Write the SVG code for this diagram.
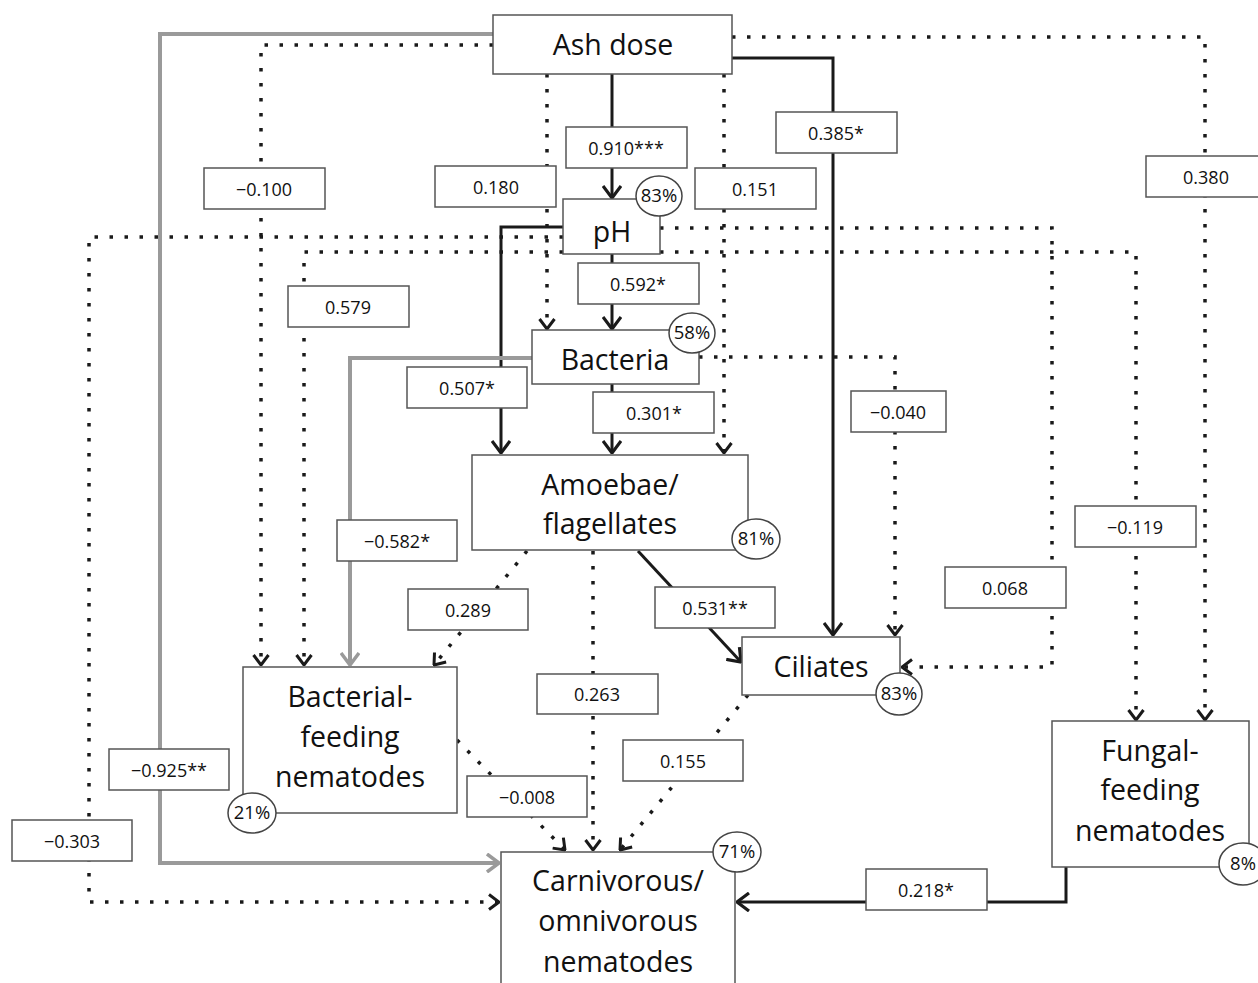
<svg xmlns="http://www.w3.org/2000/svg" width="1258" height="983" viewBox="0 0 1258 983">
<style>
.box{fill:#fff;stroke:#555;stroke-width:1.5}
.nt{font-family:"Open Sans","Liberation Sans",sans-serif;font-size:28.5px;fill:#111;text-anchor:middle}
.lb{fill:#fff;stroke:#555;stroke-width:1.5}
.lt{font-family:"Open Sans","Liberation Sans",sans-serif;font-size:18px;fill:#111;text-anchor:middle}
.pc{fill:#fff;stroke:#444;stroke-width:1.5}
.pt{font-family:"Open Sans","Liberation Sans",sans-serif;font-size:18.5px;fill:#111;text-anchor:middle}
.solid{fill:none;stroke:#1a1a1a;stroke-width:3;marker-end:url(#ab)}
.gray{fill:none;stroke:#9a9a9a;stroke-width:4;marker-end:url(#ag)}
.dot{fill:none;stroke:#1a1a1a;stroke-width:3.5;stroke-dasharray:3.5 11.5;marker-end:url(#ad)}
</style>
<defs>
<marker id="ab" viewBox="0 0 14 20" refX="13" refY="10" markerWidth="14" markerHeight="20" markerUnits="userSpaceOnUse" orient="auto">
<path d="M1,1 L13,10 L1,19" fill="none" stroke="#1a1a1a" stroke-width="3.2"/>
</marker>
<marker id="ag" viewBox="0 0 14 20" refX="13" refY="10" markerWidth="14" markerHeight="20" markerUnits="userSpaceOnUse" orient="auto">
<path d="M1,1 L13,10 L1,19" fill="none" stroke="#9a9a9a" stroke-width="3.5"/>
</marker>
<marker id="ad" viewBox="0 0 12 18" refX="11" refY="9" markerWidth="12" markerHeight="18" markerUnits="userSpaceOnUse" orient="auto">
<path d="M1,1.5 L11,9 L1,16.5" fill="none" stroke="#1a1a1a" stroke-width="3"/>
</marker>
</defs>
<rect width="1258" height="983" fill="#fff"/>
<g id="connectors">
<path class="gray" d="M493,34 H160 V863 H499"/>
<path class="dot" d="M493,45 H261 V665"/>
<path class="dot" d="M547,74 V329"/>
<path class="dot" d="M724,74 V453"/>
<path class="dot" d="M732,37 H1205 V720"/>
<path class="solid" d="M612,74 V198"/>
<path class="solid" d="M732,58 H833 V635"/>
<path class="solid" d="M563,227 H501 V453"/>
<path class="solid" d="M612,254 V329"/>
<path class="dot" d="M563,237 H89 V902 H499"/>
<path class="dot" d="M563,252 H304 V665"/>
<path class="dot" d="M660,228 H1052 V667 H902"/>
<path class="dot" d="M660,252 H1136 V720"/>
<path class="gray" d="M532,358 H350 V665"/>
<path class="solid" d="M612,384 V453"/>
<path class="dot" d="M699,357 H895 V635"/>
<path class="dot" d="M527,551 L434,665"/>
<path class="dot" d="M593,551 V850"/>
<path class="solid" d="M638,551 L741,662"/>
<path class="dot" d="M457,740 L565,850"/>
<path class="dot" d="M748,695 L620,850"/>
<path class="solid" d="M1066,867 V902 H737"/>
<g id="edge-labels">
<rect class="lb" x="566" y="127" width="121" height="41"/><text class="lt" x="626" y="155">0.910***</text>
<rect class="lb" x="776" y="112" width="121" height="41"/><text class="lt" x="836" y="140">0.385*</text>
<rect class="lb" x="204" y="168" width="121" height="41"/><text class="lt" x="264" y="196">−0.100</text>
<rect class="lb" x="435" y="166" width="121" height="41"/><text class="lt" x="496" y="194">0.180</text>
<rect class="lb" x="695" y="168" width="121" height="41"/><text class="lt" x="755" y="196">0.151</text>
<rect class="lb" x="1146" y="156" width="121" height="41"/><text class="lt" x="1206" y="184">0.380</text>
<rect class="lb" x="578" y="263" width="121" height="41"/><text class="lt" x="638" y="291">0.592*</text>
<rect class="lb" x="288" y="286" width="121" height="41"/><text class="lt" x="348" y="314">0.579</text>
<rect class="lb" x="407" y="367" width="120" height="41"/><text class="lt" x="467" y="395">0.507*</text>
<rect class="lb" x="593" y="392" width="121" height="41"/><text class="lt" x="654" y="420">0.301*</text>
<rect class="lb" x="851" y="391" width="95" height="41"/><text class="lt" x="898" y="419">−0.040</text>
<rect class="lb" x="1075" y="506" width="121" height="41"/><text class="lt" x="1135" y="534">−0.119</text>
<rect class="lb" x="337" y="520" width="120" height="41"/><text class="lt" x="397" y="548">−0.582*</text>
<rect class="lb" x="945" y="567" width="121" height="41"/><text class="lt" x="1005" y="595">0.068</text>
<rect class="lb" x="408" y="589" width="120" height="41"/><text class="lt" x="468" y="617">0.289</text>
<rect class="lb" x="655" y="587" width="120" height="41"/><text class="lt" x="715" y="615">0.531**</text>
<rect class="lb" x="537" y="674" width="121" height="40"/><text class="lt" x="597" y="701">0.263</text>
<rect class="lb" x="623" y="740" width="120" height="41"/><text class="lt" x="683" y="768">0.155</text>
<rect class="lb" x="109" y="749" width="120" height="41"/><text class="lt" x="169" y="777">−0.925**</text>
<rect class="lb" x="467" y="776" width="120" height="41"/><text class="lt" x="527" y="804">−0.008</text>
<rect class="lb" x="12" y="820" width="120" height="41"/><text class="lt" x="72" y="848">−0.303</text>
<rect class="lb" x="866" y="869" width="121" height="41"/><text class="lt" x="926" y="897">0.218*</text>
</g>
</g>
<g id="ash-dose">
<rect class="box" x="493" y="15" width="239" height="59"/>
<text class="nt" x="613" y="55">Ash dose</text>
</g>
<g id="ph">
<rect class="box" x="563" y="199" width="97" height="55"/>
<text class="nt" x="612" y="242">pH</text>
<ellipse class="pc" cx="659" cy="196" rx="23" ry="20"/>
<text class="pt" x="659" y="202">83%</text>
</g>
<g id="bacteria">
<rect class="box" x="532" y="330" width="167" height="54"/>
<text class="nt" x="615" y="370">Bacteria</text>
<ellipse class="pc" cx="692" cy="333" rx="23" ry="20"/>
<text class="pt" x="692" y="339">58%</text>
</g>
<g id="amoebae">
<rect class="box" x="472" y="455" width="276" height="95"/>
<text class="nt" x="610" y="495">Amoebae/</text>
<text class="nt" x="610" y="534">flagellates</text>
<ellipse class="pc" cx="756" cy="539" rx="24" ry="20"/>
<text class="pt" x="756" y="545">81%</text>
</g>
<g id="ciliates">
<rect class="box" x="742" y="637" width="158" height="58"/>
<text class="nt" x="821" y="677">Ciliates</text>
<ellipse class="pc" cx="899" cy="694" rx="23" ry="21"/>
<text class="pt" x="899" y="700">83%</text>
</g>
<g id="bacterial-feeding">
<rect class="box" x="243" y="667" width="214" height="146"/>
<text class="nt" x="350" y="707">Bacterial-</text>
<text class="nt" x="350" y="747">feeding</text>
<text class="nt" x="350" y="787">nematodes</text>
<ellipse class="pc" cx="252" cy="813" rx="24" ry="20"/>
<text class="pt" x="252" y="819">21%</text>
</g>
<g id="fungal-feeding">
<rect class="box" x="1052" y="721" width="197" height="146"/>
<text class="nt" x="1150" y="761">Fungal-</text>
<text class="nt" x="1150" y="800">feeding</text>
<text class="nt" x="1150" y="841">nematodes</text>
<ellipse class="pc" cx="1243" cy="864" rx="24" ry="21"/>
<text class="pt" x="1243" y="870">8%</text>
</g>
<g id="carnivorous">
<rect class="box" x="501" y="852" width="234" height="140"/>
<text class="nt" x="618" y="891">Carnivorous/</text>
<text class="nt" x="618" y="931">omnivorous</text>
<text class="nt" x="618" y="972">nematodes</text>
<ellipse class="pc" cx="737" cy="852" rx="24" ry="20"/>
<text class="pt" x="737" y="858">71%</text>
</g>
</svg>
